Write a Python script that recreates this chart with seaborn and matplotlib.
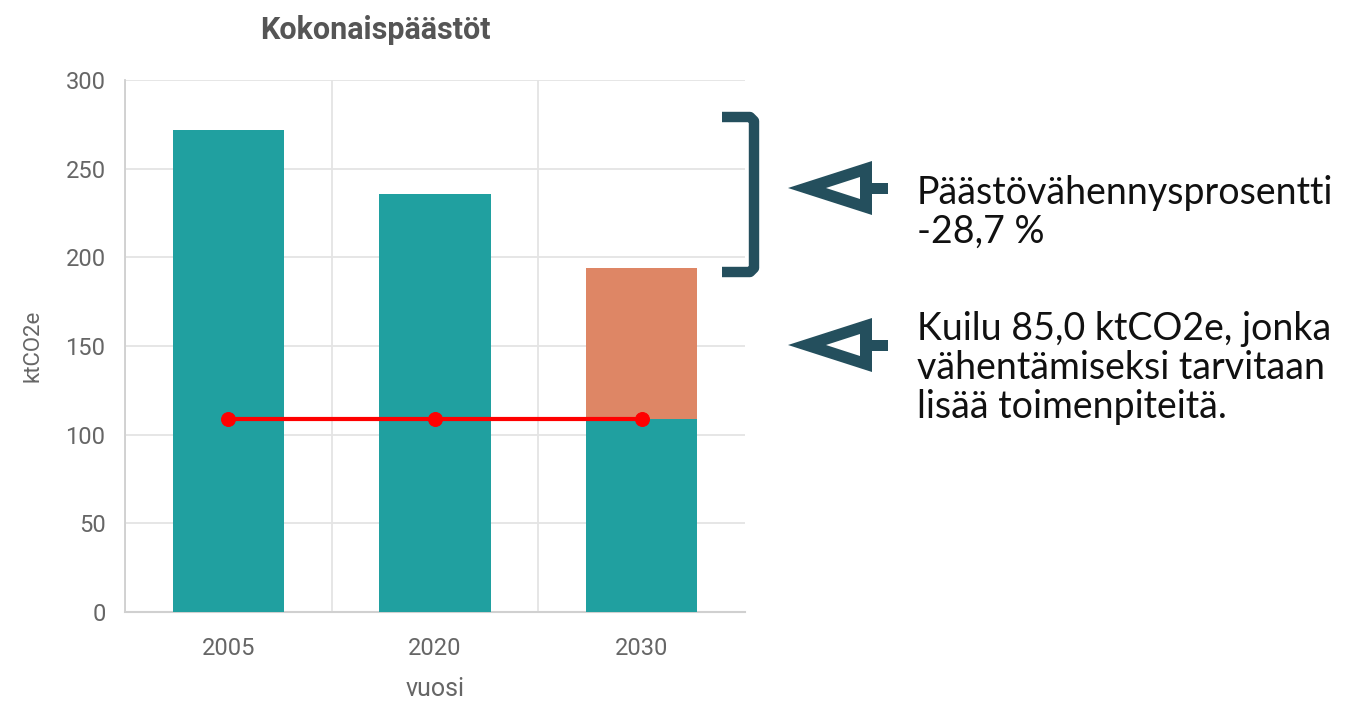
import numpy as np
import matplotlib
matplotlib.use("Agg")
import matplotlib.pyplot as plt
from matplotlib.lines import Line2D
from matplotlib.patches import Polygon, Rectangle
import seaborn as sns

# data
years = ["2005", "2020", "2030"]
totals = [271.8, 235.7, 193.8]          # total emissions per year
target = [108.8, 108.8, 108.8]          # target level (red line)
teal_part = [271.8, 235.7, 108.8]       # teal part of each bar
gap_text = "Kuilu 85,0 ktCO2e, jonka\nvähentämiseksi tarvitaan\nlisää toimenpiteitä."
pct_text = "Päästövähennysprosentti\n-28,7 %"

TEAL = "#20a0a0"
ORANGE = "#de8665"
DARK = "#244f5d"
GRID = "#e4e4e4"

sns.set_style("white")
plt.rcParams['font.family'] = ['Roboto', 'DejaVu Sans']

fig = plt.figure(figsize=(13.6, 7.08), dpi=100)
ax = fig.add_axes([125 / 1360, 1 - 612 / 708, 620 / 1360, 532 / 708])

# total bars (orange shows the gap on 2030), teal overlay below
sns.barplot(x=years, y=totals, hue=years, palette=[TEAL, TEAL, ORANGE],
            width=0.54, saturation=1, legend=False, ax=ax, zorder=2)
sns.barplot(x=years, y=teal_part, color=TEAL, width=0.54, saturation=1,
            ax=ax, zorder=3)
for p in ax.patches:
    p.set_edgecolor("none")

sns.lineplot(x=[0, 1, 2], y=target, color="red", lw=3, marker="o",
             markersize=10, markeredgecolor="red", ax=ax, zorder=4)

ax.set_xlim(-0.5, 2.5)
ax.set_ylim(0, 300)
ax.set_yticks(range(0, 301, 50))
ax.set_xticks([0, 1, 2])
ax.set_xticklabels(years)
ax.set_xticks([-0.5, 0.5, 1.5], minor=True)

ax.grid(axis="y", color=GRID, lw=1.3, zorder=0)
ax.grid(axis="x", which="minor", color=GRID, lw=1.3, zorder=0)
ax.set_axisbelow(True)
for s in ["top", "right"]:
    ax.spines[s].set_visible(False)
ax.spines["left"].set_color("#cfcfcf")
ax.spines["bottom"].set_color("#d0d0d0")
ax.spines["left"].set_linewidth(1.3)
ax.spines["bottom"].set_linewidth(1.5)

ax.tick_params(axis="y", length=11, color=GRID, width=1.3, labelsize=17,
               labelcolor="#666666", pad=3)
ax.tick_params(axis="x", which="major", length=0, labelsize=17,
               labelcolor="#666666", pad=18)
ax.tick_params(axis="x", which="minor", length=15, color=GRID, width=1.3)

ax.set_xlabel("vuosi", fontsize=18, color="#666666", labelpad=12)
ax.set_ylabel("ktCO2e", fontsize=16, color="#666666", labelpad=16)

fig.text(375 / 1360, 1 - 30 / 708, "Kokonaispäästöt", fontsize=22,
         fontweight="bold", color="#555555", ha="center", va="center")

# annotations in pixel coords (y from top)
def fx(x):
    return x / 1360

def fy(y):
    return 1 - y / 708

bx = [722, 750, 754, 754, 750, 722]
by = [117, 117, 121, 268, 272, 272]
fig.add_artist(Line2D([fx(v) for v in bx], [fy(v) for v in by], color=DARK,
                      lw=7.5, solid_joinstyle="round", solid_capstyle="butt"))

def arrow(cy):
    outer = [(788, cy), (872, cy - 27), (872, cy + 27)]
    inner = [(826, cy), (860, cy - 11), (860, cy + 11)]
    fig.add_artist(Polygon([(fx(a), fy(b)) for a, b in outer], closed=True,
                           facecolor=DARK, edgecolor="none"))
    fig.add_artist(Polygon([(fx(a), fy(b)) for a, b in inner], closed=True,
                           facecolor="white", edgecolor="none"))
    fig.add_artist(Rectangle((fx(870), fy(cy + 5.5)), fx(18), 11 / 708,
                             facecolor=DARK, edgecolor="none"))

arrow(188)
arrow(345)

fig.text(fx(917), fy(212), pct_text, fontsize=27, family="Lato",
         color="#111111", va="center", ha="left", linespacing=1.1)
fig.text(fx(917), fy(368), gap_text, fontsize=27, family="Lato",
         color="#111111", va="center", ha="left", linespacing=1.1)

fig.savefig("out.png", dpi=100)
